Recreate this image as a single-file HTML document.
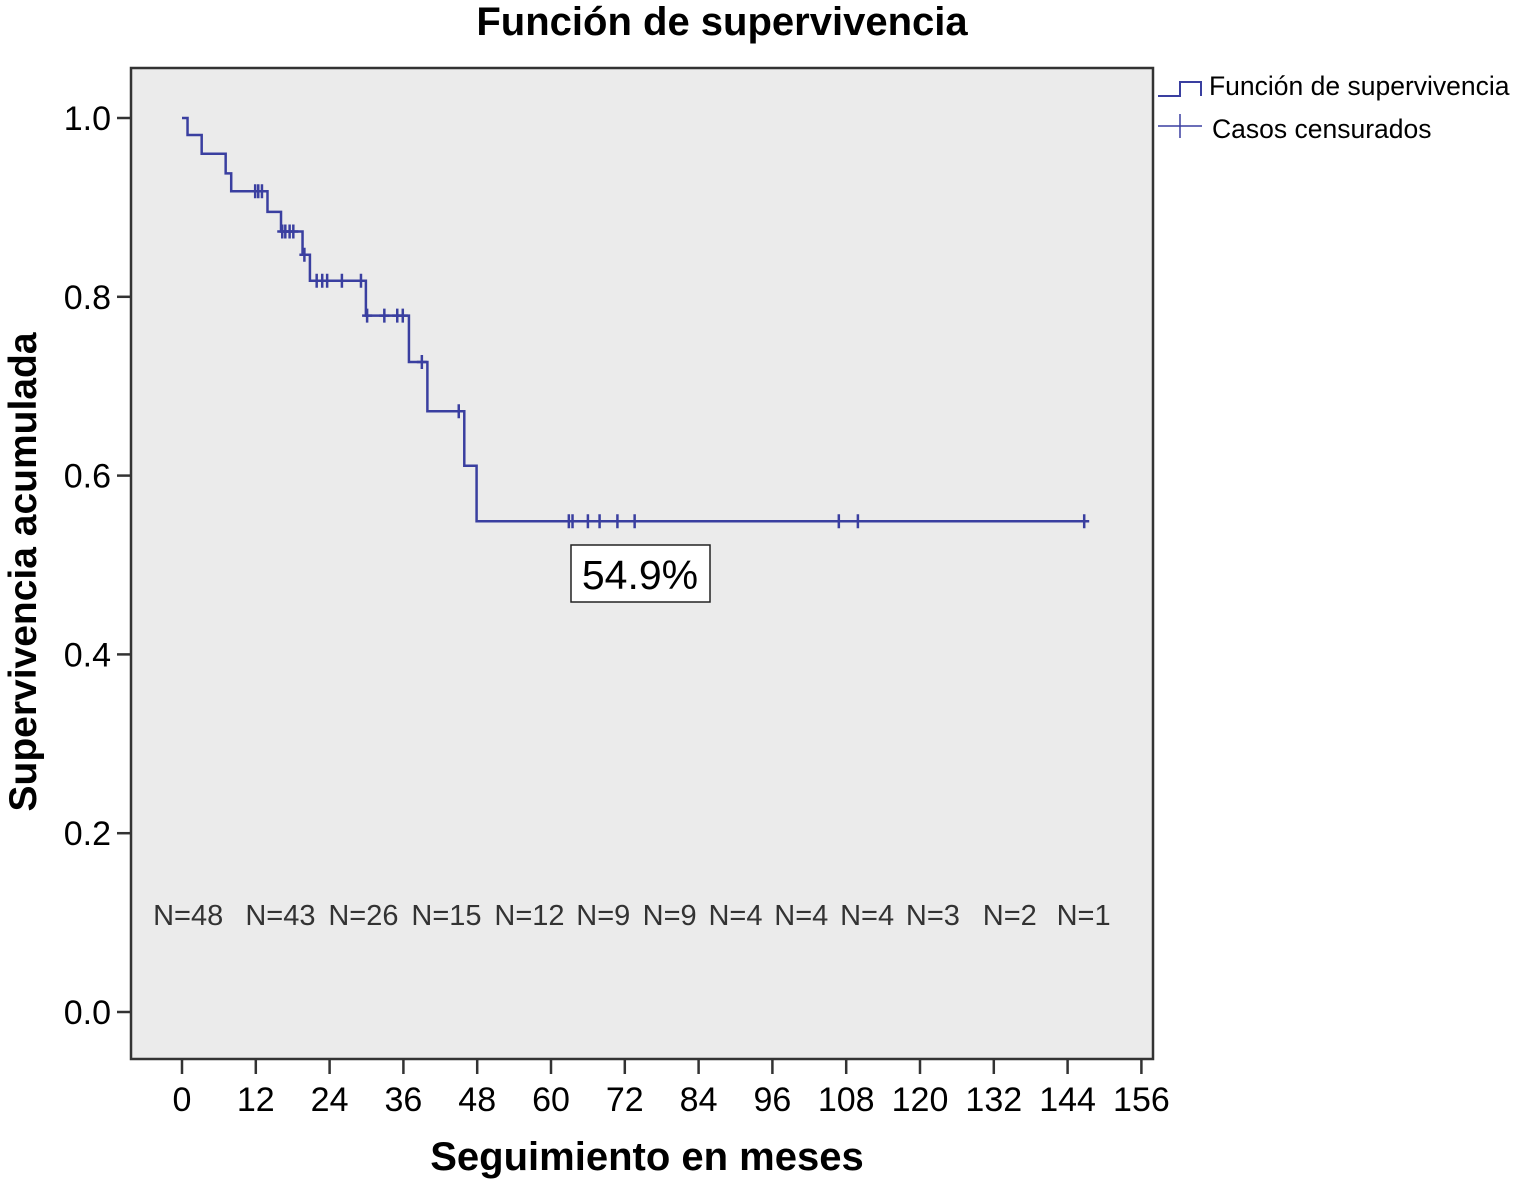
<!DOCTYPE html>
<html><head><meta charset="utf-8"><style>
body{margin:0;background:#fff;}
svg text{font-family:"Liberation Sans",Arial,sans-serif;}
</style></head><body>
<svg id="chart" width="1514" height="1184" viewBox="0 0 1514 1184" xmlns="http://www.w3.org/2000/svg">
<text x="722" y="35" text-anchor="middle" font-size="40" font-weight="bold">Función de supervivencia</text>
<rect x="131" y="68" width="1022" height="991" fill="#ebebeb" stroke="#333" stroke-width="2.5"/>
<g id="yaxis"></g>
<g id="xaxis"></g>
<g id="nlabels"></g>
<g id="series"></g>
<rect x="571" y="545" width="139" height="57" fill="#fff" stroke="#222" stroke-width="1.5"/>
<text x="640" y="589" text-anchor="middle" font-size="41">54.9%</text>
<text transform="translate(36,572) rotate(-90)" text-anchor="middle" font-size="39" font-weight="bold">Supervivencia acumulada</text>
<text x="647" y="1170" text-anchor="middle" font-size="40" font-weight="bold">Seguimiento en meses</text>
<g>
<path d="M1158 96 H1180 V82 H1201 V96" fill="none" stroke="#3a3fa0" stroke-width="2"/>
<text x="1209" y="95" font-size="26.5">Función de supervivencia</text>
<path d="M1158 126 H1202 M1180 114 V138" stroke="#3a3fa0" stroke-width="1.5"/>
<text x="1212" y="138" font-size="26.5">Casos censurados</text>
</g>
</svg>
<script>
const xTicks=[0,12,24,36,48,60,72,84,96,108,120,132,144,156];
const yTicks=[0,0.2,0.4,0.6,0.8,1.0];
const eventTimes=[0,0.9,3.2,7.1,8.0,13.9,16.1,19.6,20.8,29.9,36.9,39.9,45.9,47.9];
const survival=[1.0,0.981,0.960,0.938,0.918,0.895,0.873,0.847,0.818,0.779,0.727,0.672,0.611,0.549];
const censorTimes=[11.9,12.4,13.0,16.3,16.8,17.5,18.1,19.9,21.9,22.8,23.6,26.0,29.1,30.1,32.9,35.0,35.9,39.0,45.0,62.9,63.5,66.0,67.9,70.8,73.6,106.8,109.9,146.7];
const endTime=147.2;
const nLabels=["N=48","N=43","N=26","N=15","N=12","N=9","N=9","N=4","N=4","N=4","N=3","N=2","N=1"];
const nMonths=[1,16,29.5,43,56.5,68.5,79.3,90,100.7,111.4,122.1,134.6,146.6];
const NS="http://www.w3.org/2000/svg";
const X=m=>182+m*6.15;
const Y=v=>1012-v*894;
function mk(tag,attrs,parent,txt){const e=document.createElementNS(NS,tag);for(const k in attrs)e.setAttribute(k,attrs[k]);if(txt!==undefined)e.textContent=txt;parent.appendChild(e);return e;}
function surv(t){let s=1;for(let i=0;i<eventTimes.length;i++)if(eventTimes[i]<=t)s=survival[i];return s;}
const ya=document.getElementById('yaxis');
yTicks.forEach(v=>{
 const l=mk('line',{x1:117,x2:131,y1:Y(v),y2:Y(v),stroke:'#333','stroke-width':2.5},ya);
 
 
 const t=mk('text',{x:111,y:Y(v)+12,'text-anchor':'end','font-size':34},ya,v.toFixed(1));
 
 
});
const xa=document.getElementById('xaxis');
xTicks.forEach(m=>{
 const l=mk('line',{x1:X(m),x2:X(m),y1:1059,y2:1074,stroke:'#333','stroke-width':2.5},xa);
 
 
 const t=mk('text',{x:X(m),y:1111,'text-anchor':'middle','font-size':34},xa,String(m));
 
 
});
const nl=document.getElementById('nlabels');
nLabels.forEach((s,i)=>{
 const t=mk('text',{x:X(nMonths[i]),y:925,'text-anchor':'middle','font-size':29,fill:'#333'},nl,s);
 
 
});
const sg=document.getElementById('series');
let d='M'+X(eventTimes[0])+' '+Y(survival[0]);
for(let i=1;i<eventTimes.length;i++){d+=' H'+X(eventTimes[i])+' V'+Y(survival[i]);}
d+=' H'+X(endTime);
const p=mk('path',{d:d,fill:'none',stroke:'#3a3fa0','stroke-width':2.5},sg);


censorTimes.forEach(t=>{
 const y=Y(surv(t));
 const c=mk('path',{d:'M'+(X(t)-5)+' '+y+' H'+(X(t)+5)+' M'+X(t)+' '+(y-7)+' V'+(y+7),stroke:'#3a3fa0','stroke-width':2.5},sg);
 
 
});
</script>
</body></html>
